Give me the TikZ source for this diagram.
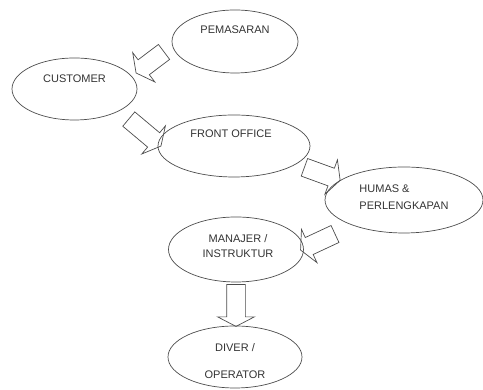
\documentclass[tikz,border=0pt]{standalone}
\usepackage{fontspec}
\setmainfont{Liberation Sans}
\usetikzlibrary{shapes.geometric}
\usetikzlibrary{shapes.arrows}

\begin{document}
\begin{tikzpicture}[x=1pt,y=1pt,
        oval/.style={ellipse,draw=black!70,line width=.7pt,inner sep=0pt},
        lbl/.style={font=\fontsize{11}{13.5}\selectfont,text=black!80,inner sep=0pt},
        blockarrow/.style={single arrow,draw=black!70,line width=.7pt,inner sep=9pt,
            single arrow head extend=9pt,single arrow tip angle=125,minimum height=40pt}]
        \useasboundingbox (0,0) rectangle (483,390);
        \node[oval,minimum width=126pt,minimum height=63pt] (pemasaran) at (235,348.5) {};
        \node[oval,minimum width=125pt,minimum height=62pt] (customer) at (74.5,301) {};
        \node[oval,minimum width=152pt,minimum height=62pt] (frontoffice) at (234,244) {};
        \node[oval,minimum width=158pt,minimum height=66pt] (humas) at (404,190) {};
        \node[oval,minimum width=135pt,minimum height=65pt] (manajer) at (236,140.5) {};
        \node[oval,minimum width=134pt,minimum height=62pt] (diver) at (235,33) {};
        \node[lbl] (pemasaran-t) at ([yshift=11.5pt]pemasaran.center) {PEMASARAN};
        \node[lbl] (customer-t) at ([yshift=10pt]customer.center) {CUSTOMER};
        \node[lbl] (frontoffice-t) at ([xshift=-3pt,yshift=12pt]frontoffice.center) {FRONT OFFICE};
        \node[lbl,align=left] (humas-t) at ([yshift=3pt]humas.center) {HUMAS \&\\[3pt]PERLENGKAPAN};
        \node[lbl,align=center] (manajer-t) at ([xshift=2pt,yshift=3.5pt]manajer.center) {MANAJER /\\[2pt]INSTRUKTUR};
        \node[lbl,align=center] (diver-t) at ([yshift=-4pt]diver.center) {DIVER /\\[13pt]OPERATOR};
        \node[blockarrow,minimum height=35pt,rotate=217] (pem-cus) at (152,329) {};
        \node[blockarrow,minimum height=42pt,rotate=-40] (cus-fo) at (143,259) {};
        \node[blockarrow,minimum height=38pt,rotate=-20] (fo-hum) at (320,217) {};
        \node[blockarrow,minimum height=38pt,rotate=205] (hum-man) at (320,149) {};
        \node[blockarrow,minimum height=42pt,rotate=-90] (man-div) at (236,87) {};
    \end{tikzpicture}
\end{document}
